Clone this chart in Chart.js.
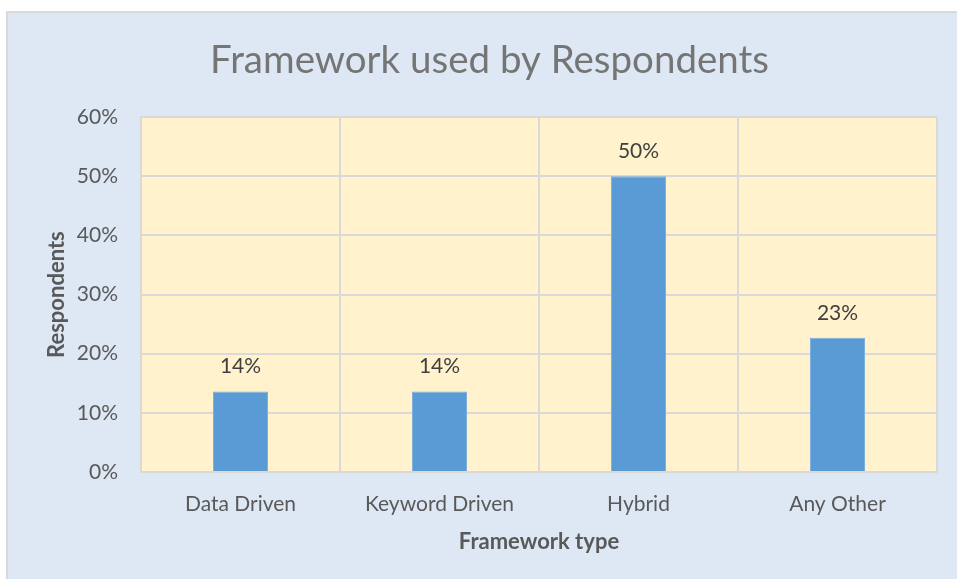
<!DOCTYPE html>
<html lang="en">
<head>
  <meta charset="UTF-8">
  <title>Framework used by Respondents</title>
  <script src="https://cdn.jsdelivr.net/npm/chart.js"></script>
  <style>
    html, body { margin: 0; padding: 0; background: #fff; }
    .panel { position: absolute; left: 6px; top: 11px; width: 949px; height: 566px;
             border-top: 2px solid #d9d9d9; border-left: 2px solid #d9d9d9; background: #dee8f5; }
    canvas { display: block; }
  </style>
</head>
<body>
  <div class="panel"><canvas id="chart" width="949" height="566"></canvas></div>

  <script>
    const categories = ['Data Driven', 'Keyword Driven', 'Hybrid', 'Any Other'];
    const shares = [13.6, 13.6, 50, 22.7];
    const shareLabels = ['14%', '14%', '50%', '23%'];
    const yTicks = [0, 10, 20, 30, 40, 50, 60];

    const FONT = 'Lato';
    const TEXT = '#595959';

    // yellow plot area behind the grid
    const plotBg = {
      id: 'plotBg',
      beforeDraw(chart) {
        const { ctx, chartArea: a } = chart;
        ctx.save();
        ctx.fillStyle = '#fff2cc';
        ctx.fillRect(a.left, a.top, a.right - a.left, a.bottom - a.top);
        ctx.restore();
      }
    };

    // value labels above each bar
    const barLabels = {
      id: 'barLabels',
      afterDatasetsDraw(chart) {
        const { ctx } = chart;
        const meta = chart.getDatasetMeta(0);
        ctx.save();
        ctx.font = '21px ' + FONT;
        ctx.fillStyle = '#404040';
        ctx.textAlign = 'center';
        ctx.textBaseline = 'middle';
        meta.data.forEach((bar, i) => {
          ctx.fillText(shareLabels[i], bar.x, bar.y - 25);
        });
        ctx.restore();
      }
    };

    new Chart(document.getElementById('chart'), {
      type: 'bar',
      data: {
        labels: categories,
        datasets: [{
          data: shares,
          backgroundColor: '#5b9bd5',
          borderColor: '#7aaedd',
          borderWidth: 1,
          barPercentage: 0.277,
          categoryPercentage: 1
        }]
      },
      options: {
        responsive: false,
        animation: false,
        layout: { padding: { left: 34, right: 20, top: 0, bottom: 24 } },
        plugins: {
          legend: { display: false },
          tooltip: { enabled: false },
          title: {
            display: true,
            text: 'Framework used by Respondents',
            color: '#757575',
            font: { family: FONT, size: 38.5, weight: 'normal' },
            padding: { top: 24, bottom: 34 }
          }
        },
        scales: {
          x: {
            afterFit(scale) { scale.height = 83; },
            grid: { color: '#d9d9d9', lineWidth: 2, drawTicks: false, offset: true },
            border: { color: '#d9d9d9', width: 2 },
            ticks: { color: TEXT, padding: 20, font: { family: FONT, size: 21 } },
            title: {
              display: true, text: 'Framework type', color: TEXT,
              font: { family: FONT, size: 22, weight: 'bold' },
              padding: { top: 0, bottom: 0 }
            }
          },
          y: {
            min: 0, max: 60,
            afterFit(scale) { scale.width = 99; },
            afterBuildTicks(scale) { scale.ticks = yTicks.map(v => ({ value: v })); },
            grid: { color: '#d9d9d9', lineWidth: 2, drawTicks: false },
            border: { color: '#d9d9d9', width: 2 },
            ticks: { color: TEXT, padding: 23, font: { family: FONT, size: 21 },
                     callback: v => v + '%' },
            title: {
              display: true, text: 'Respondents', color: TEXT,
              font: { family: FONT, size: 22, weight: 'bold' },
              padding: { top: 2, bottom: 0 }
            }
          }
        }
      },
      plugins: [plotBg, barLabels]
    });
  </script>
</body>
</html>
